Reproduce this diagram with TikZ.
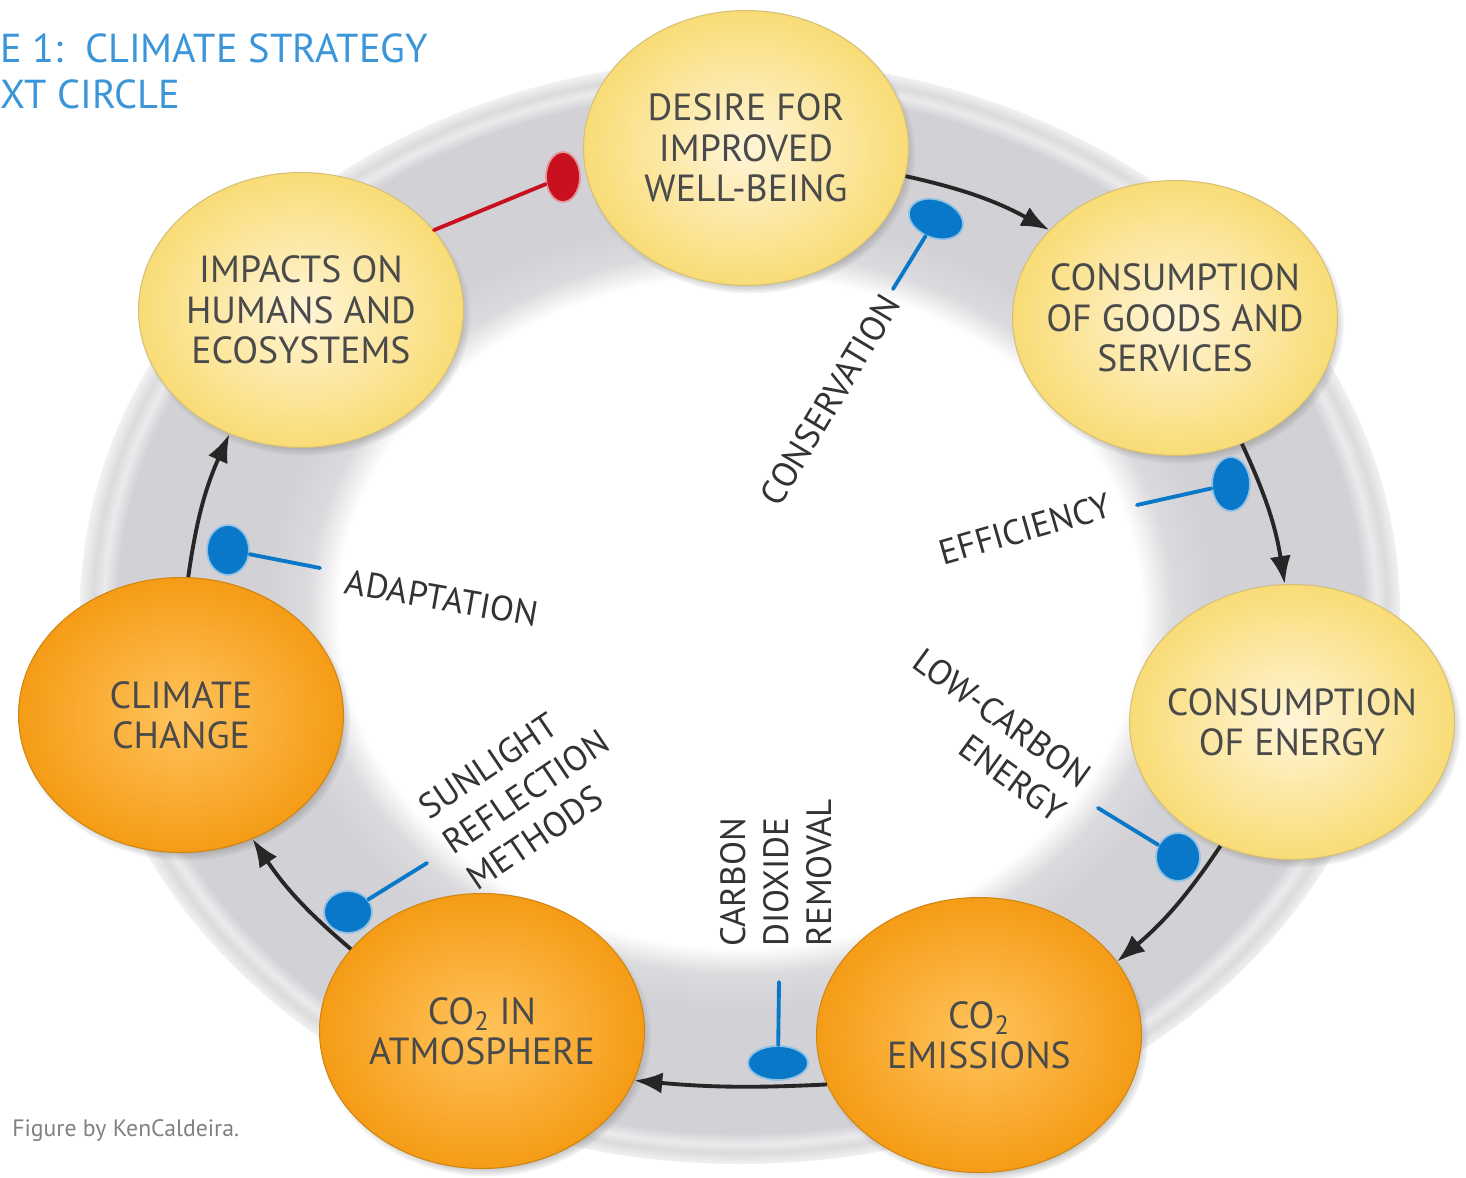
\documentclass[tikz,border=0pt]{standalone}
\usepackage{fontspec}
\setmainfont{PT Sans}
\usetikzlibrary{shapes.geometric,arrows.meta,shadows}

\definecolor{titleblue}{HTML}{3B95D9}
\definecolor{nodetext}{HTML}{4A4A4A}
\definecolor{labeltext}{HTML}{333333}
\definecolor{inhibblue}{HTML}{0A78C8}
\definecolor{inhibred}{HTML}{C8101E}
\definecolor{lightin}{HTML}{FFF5D8}
\definecolor{lightout}{HTML}{F9DC76}
\definecolor{darkin}{HTML}{FFC35C}
\definecolor{darkout}{HTML}{F59C16}
\definecolor{ringgray}{HTML}{D2D2D6}

% grey ring, white in the middle
\pgfdeclareradialshading{ringshade}{\pgfpoint{0bp}{0bp}}{color(0bp)=(white); color(15.2bp)=(white); color(16.4bp)=(ringgray!80); color(18bp)=(ringgray); color(23.6bp)=(ringgray); color(24.1bp)=(ringgray!45); color(24.5bp)=(ringgray!80); color(25bp)=(ringgray!30); color(50bp)=(white)}

\tikzset{
  stage/.style={ellipse, minimum width=6.5cm, minimum height=5.5cm, inner xsep=-0.5cm, inner ysep=0pt, align=center,
    text=nodetext, font=\fontsize{21.5}{23}\selectfont,
    circular drop shadow={shadow xshift=2pt, shadow yshift=-3pt, shadow scale=1.02}},
  wish/.style={stage, inner color=lightin, outer color=lightout, draw=lightout!70!gray, line width=0.6pt},
  harm/.style={stage, inner color=darkin, outer color=darkout, draw=darkout!85!black, line width=0.6pt},
  flow/.style={line width=2.2pt, black!85, -{Latex[length=16pt,width=12pt]}},
  inhib/.style={line width=2.2pt, inhibblue, line cap=round},
  blob/.style={ellipse, fill=inhibblue, draw=inhibblue!45, line width=1pt, inner sep=0pt},
  lever/.style={text=labeltext, font=\fontsize{20}{24.5}\selectfont, inner sep=0pt}
}

\begin{document}
\begin{tikzpicture}[x=0.02cm, y=-0.02cm]
  \useasboundingbox (0,0) rectangle (1466,1177);
  \shade[shading=ringshade] (740,612) ellipse [x radius=660, y radius=552];

  % title and credit
  \node[anchor=base west, text=titleblue, font=\fontsize{23}{26}\selectfont, inner sep=0pt] (title) at (0,62) {E 1:\ \ CLIMATE STRATEGY};
  \node[anchor=base west, text=titleblue, font=\fontsize{23}{26}\selectfont, inner sep=0pt] (subtitle) at (0,108) {XT CIRCLE};
  \node[anchor=base west, text=gray, font=\fontsize{13.5}{15}\selectfont, inner sep=0pt] (credit) at (12,1136) {Figure by KenCaldeira.};

  % the circle of stages
  \node[wish] (desire) at (746,148) {DESIRE FOR\\IMPROVED\\WELL-BEING};
  \node[wish] (goods) at (1175,318) {CONSUMPTION\\OF GOODS AND\\SERVICES};
  \node[wish] (energy) at (1292,722) {CONSUMPTION\\OF ENERGY};
  \node[harm] (emissions) at (979,1035) {CO\textsubscript{2}\\EMISSIONS};
  \node[harm] (atmos) at (482,1031) {CO\textsubscript{2} IN\\ATMOSPHERE};
  \node[harm] (climate) at (181,715) {CLIMATE\\CHANGE};
  \node[wish] (impacts) at (301,310) {IMPACTS ON\\HUMANS AND\\ECOSYSTEMS};

  \draw[flow] (desire.-10) to[bend left=8] (goods.145);
  \draw[flow] (goods.-62) to[bend left=8] (energy.93);
  \draw[flow] (energy.-120) to[bend left=8] (emissions.28);
  \draw[flow] (emissions.-162) to[bend left=4] (atmos.-18);
  \draw[flow] (atmos.148) to[bend left=8] (climate.-60);
  \draw[flow] (climate.87) to[bend left=8] (impacts.-120);

  % feedback
  \node[blob, fill=inhibred, draw=inhibred!45, minimum width=0.68cm, minimum height=1cm] (redblob) at (563,177) {};
  \draw[inhib, inhibred] (impacts.31) -- (redblob);

  % strategies
  \node[blob, minimum width=1.12cm, minimum height=0.76cm, rotate=-20] (consblob) at (936,219) {};
  \node[blob, minimum width=0.76cm, minimum height=1.08cm] (effblob) at (1231,484) {};
  \node[blob, minimum width=0.88cm, minimum height=0.96cm] (lowblob) at (1178,857) {};
  \node[blob, minimum width=1.2cm, minimum height=0.68cm] (cdrblob) at (778,1063) {};
  \node[blob, minimum width=0.96cm, minimum height=0.84cm] (sunblob) at (348,912) {};
  \node[blob, minimum width=0.84cm, minimum height=1cm] (adaptblob) at (228,550) {};

  \coordinate (conscut) at (893,289);
  \coordinate (effcut) at (1137,505);
  \coordinate (lowcut) at (1098,808);
  \coordinate (cdrcut) at (779,982);
  \coordinate (suncut) at (427,863);
  \coordinate (adaptcut) at (320,568);
  \draw[inhib] (conscut) -- (consblob);
  \draw[inhib] (effcut) -- (effblob);
  \draw[inhib] (lowcut) -- (lowblob);
  \draw[inhib] (cdrcut) -- (cdrblob);
  \draw[inhib] (suncut) -- (sunblob);
  \draw[inhib] (adaptcut) -- (adaptblob);

  \node[lever, rotate=59] (conslabel) at (830,400) {CONSERVATION};
  \node[lever, rotate=16] (efflabel) at (1025,529) {EFFICIENCY};
  \node[lever, rotate=-36, align=right] (lowlabel) at (990,735) {LOW-CARBON\\ENERGY};
  \node[lever, rotate=90, align=left, anchor=west] (cdrlabel) at (776,947) {CARBON\\DIOXIDE\\REMOVAL};
  \node[lever, rotate=34, align=left] (sunlabel) at (526,792) {SUNLIGHT\\REFLECTION\\METHODS};
  \node[lever, rotate=-10] (adaptlabel) at (442,598) {ADAPTATION};
\end{tikzpicture}
\end{document}
